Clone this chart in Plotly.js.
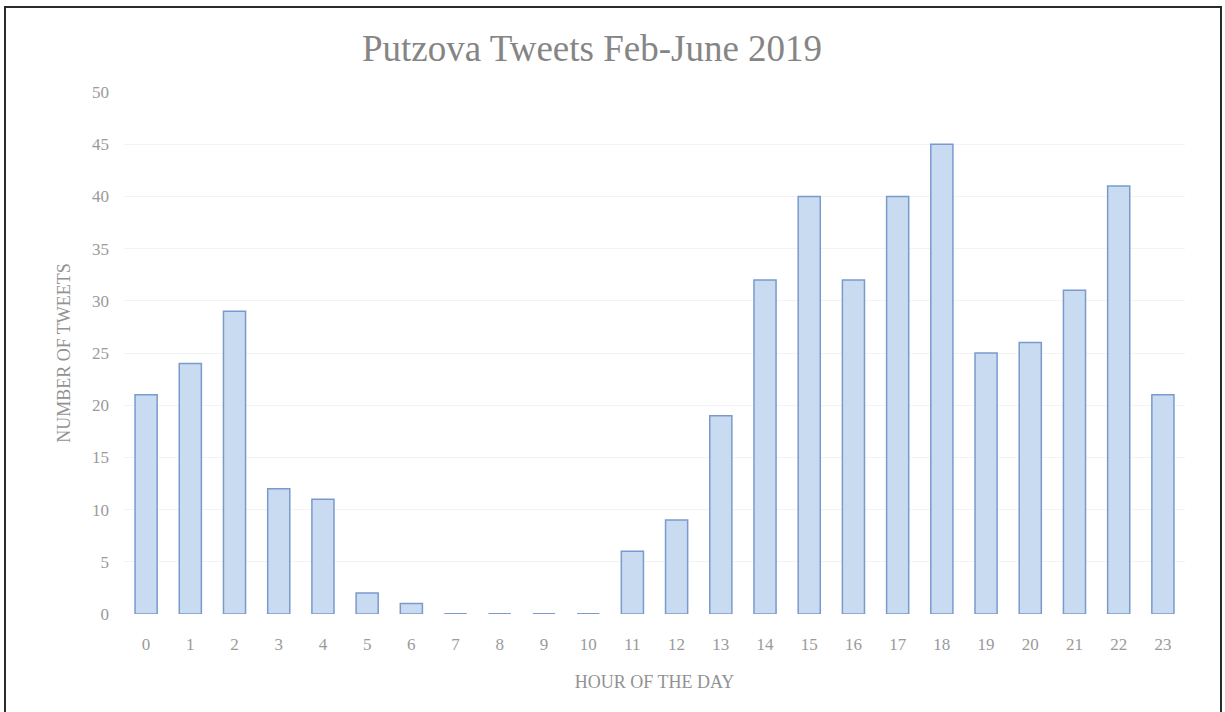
<!DOCTYPE html>
<html>
<head>
<meta charset="utf-8">
<script src="https://cdn.plot.ly/plotly-3.0.1.min.js"></script>
<style>
  html, body { margin: 0; padding: 0; background: #ffffff; }
  #wrap { position: relative; width: 1225px; height: 712px; overflow: hidden; }
  #chart { position: absolute; left: 0; top: 0; width: 1225px; height: 712px; }
  #frame { position: absolute; left: 4px; top: 6px; width: 1214px; height: 720px;
           border-left: 2px solid #2b2b2b; border-top: 2px solid #2b2b2b; border-right: 2px solid #2b2b2b;
           pointer-events: none; }
</style>
</head>
<body>
<div id="wrap">
  <div id="chart"></div>
  <div id="frame"></div>
</div>
<script>
const hours = ["0","1","2","3","4","5","6","7","8","9","10","11","12","13","14","15","16","17","18","19","20","21","22","23"];
const tweets = [21, 24, 29, 12, 11, 2, 1, 0, 0, 0, 0, 6, 9, 19, 32, 40, 32, 40, 45, 25, 26, 31, 41, 21];
const yTicks = [0, 5, 10, 15, 20, 25, 30, 35, 40, 45, 50];

const fontFam = '"Liberation Serif", "DejaVu Serif", serif';
const barFill = '#c9dbf1';
const barLine = '#7a9acd';

// zero-valued hours are drawn in the reference as a flat line at the baseline
const zeroShapes = [];
hours.forEach((h, i) => {
  if (tweets[i] === 0) {
    zeroShapes.push({
      type: 'line', xref: 'x', yref: 'y',
      x0: i - 0.25, x1: i + 0.25, y0: 0, y1: 0,
      line: { color: barLine, width: 2 }
    });
  }
});

const trace = {
  type: 'bar',
  x: hours,
  y: tweets,
  marker: { color: barFill, line: { color: barLine, width: 1.5 } },
  hoverinfo: 'x+y'
};

const layout = {
  width: 1225, height: 712,
  margin: { l: 124, r: 40, t: 92, b: 98 },
  paper_bgcolor: '#ffffff', plot_bgcolor: '#ffffff',
  showlegend: false,
  bargap: 0.5,
  font: { family: fontFam, color: '#959595' },
  title: {
    text: 'Putzova Tweets Feb-June 2019',
    font: { family: fontFam, size: 37, color: '#858585' },
    xref: 'container', x: 592 / 1225, xanchor: 'center',
    yref: 'container', y: 1 - 48 / 712, yanchor: 'middle'
  },
  xaxis: {
    type: 'category',
    tickvals: hours, ticktext: hours,
    showgrid: false, zeroline: false, showline: false,
    ticks: '', ticklabelstandoff: 18,
    tickfont: { family: fontFam, size: 17, color: '#9a9a9a' },
    title: { text: 'HOUR OF THE DAY', font: { family: fontFam, size: 18, color: '#929292' }, standoff: 22 }
  },
  yaxis: {
    range: [0, 50],
    tickvals: yTicks, ticktext: yTicks.map(String),
    showgrid: true, gridcolor: '#f3f3f3', gridwidth: 1,
    zeroline: false, showline: false,
    ticks: '', ticklabelstandoff: 14,
    tickfont: { family: fontFam, size: 17, color: '#9a9a9a' },
    title: { text: 'NUMBER OF TWEETS', font: { family: fontFam, size: 18, color: '#929292' }, standoff: 16 }
  },
  shapes: zeroShapes
};

Plotly.newPlot('chart', [trace], layout, { displayModeBar: false, staticPlot: true });
</script>
</body>
</html>
